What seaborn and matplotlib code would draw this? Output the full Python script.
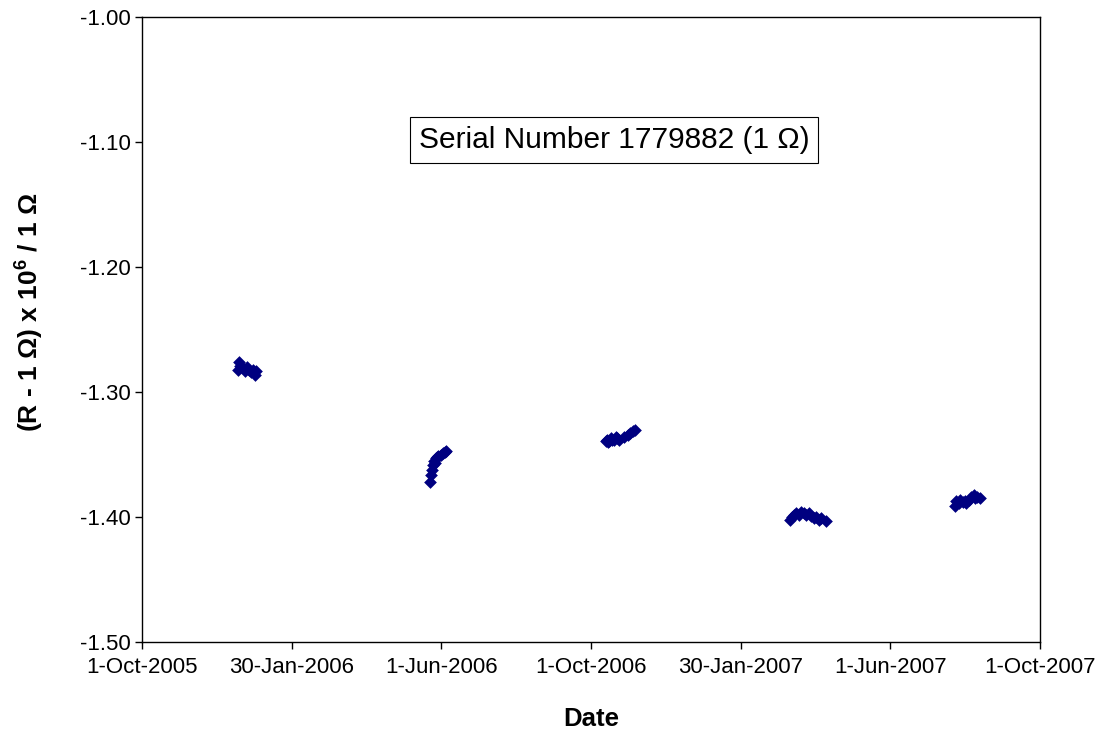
import numpy as np
import pandas as pd
import matplotlib
matplotlib.use("Agg")
import matplotlib.pyplot as plt
import matplotlib.dates as mdates
import seaborn as sns

# data: days after 1-Oct-2005 and deviation (ppm)
origin = pd.Timestamp("2005-10-01")
days = [78, 79, 80, 82, 84, 85, 87, 89, 90, 92, 93,
        234, 235, 236, 236.5, 237, 238, 239, 240, 241, 243, 245, 246, 247,
        377, 378, 379, 380, 381, 382, 384, 385, 386, 388, 392, 395, 397, 399, 401,
        527, 528, 530, 532, 534, 536, 538, 540, 542, 544, 546, 548, 550, 552, 556,
        661, 662, 664, 665, 667, 669, 670, 672, 674, 676, 677, 679, 681]
deviation = [-1.282, -1.276, -1.279, -1.281, -1.283, -1.280, -1.282, -1.284, -1.282, -1.286, -1.283,
             -1.372, -1.366, -1.362, -1.358, -1.355, -1.357, -1.353, -1.352, -1.351, -1.350, -1.349, -1.348, -1.347,
             -1.339, -1.338, -1.340, -1.339, -1.337, -1.338, -1.338, -1.336, -1.337, -1.338, -1.336, -1.334, -1.333, -1.331, -1.330,
             -1.402, -1.400, -1.398, -1.397, -1.398, -1.396, -1.397, -1.398, -1.397, -1.399, -1.401, -1.400, -1.402, -1.401, -1.403,
             -1.391, -1.387, -1.389, -1.386, -1.388, -1.387, -1.389, -1.386, -1.384, -1.382, -1.385, -1.384, -1.385]
tick_labels = ["1-Oct-2005", "30-Jan-2006", "1-Jun-2006", "1-Oct-2006",
               "30-Jan-2007", "1-Jun-2007", "1-Oct-2007"]
y_ticks = [-1.50, -1.40, -1.30, -1.20, -1.10, -1.00]

df = pd.DataFrame({"Date": origin + pd.to_timedelta(days, unit="D"),
                   "Deviation": deviation})

sns.set_style("white")
plt.rcParams["font.family"] = ["Liberation Sans", "DejaVu Sans"]
plt.rcParams["mathtext.fontset"] = "custom"
plt.rcParams["mathtext.rm"] = "Liberation Sans"
plt.rcParams["mathtext.bf"] = "Liberation Sans:bold"
plt.rcParams["text.color"] = "black"
plt.rcParams["axes.labelcolor"] = "black"
plt.rcParams["xtick.color"] = "black"
plt.rcParams["ytick.color"] = "black"

fig = plt.figure(figsize=(11.05, 7.35), dpi=100)
ax = fig.add_axes([0.1285, 0.1265, 0.8127, 0.8503])

sns.scatterplot(data=df, x="Date", y="Deviation", marker="D", s=42,
                color="#000080", edgecolor="#000080", linewidth=0, ax=ax)

x0 = mdates.date2num(origin)
span = 730.0
ticks = [x0 + k * span / 6 for k in range(7)]
ax.set_xlim(x0, x0 + span)
ax.set_xticks(ticks)
ax.set_xticklabels(tick_labels, fontsize=16)
ax.set_ylim(-1.50, -1.00)
ax.set_yticks(y_ticks)
ax.set_yticklabels([f"{v:.2f}" for v in y_ticks], fontsize=16)

ax.tick_params(axis="both", direction="out", length=5, width=1,
               bottom=True, left=True, pad=3)
ax.tick_params(axis="x", pad=6)
for sp in ax.spines.values():
    sp.set_color("black")
    sp.set_linewidth(1)

ax.set_xlabel("Date", fontsize=18.5, fontweight="bold", labelpad=21)
ax.set_ylabel(r"(R - 1 Ω) x 10$^{\mathbf{6}}$ / 1 Ω", fontsize=19,
              fontweight="bold")
ax.yaxis.set_label_coords(-0.108, 0.528)

ax.text(0.5256, 0.803, "Serial Number 1779882 (1 Ω)", transform=ax.transAxes,
        ha="center", va="center", fontsize=21.5,
        bbox=dict(boxstyle="square,pad=0.3", facecolor="white",
                  edgecolor="black", linewidth=0.8))

fig.savefig("out.png", dpi=100)
plt.close(fig)
